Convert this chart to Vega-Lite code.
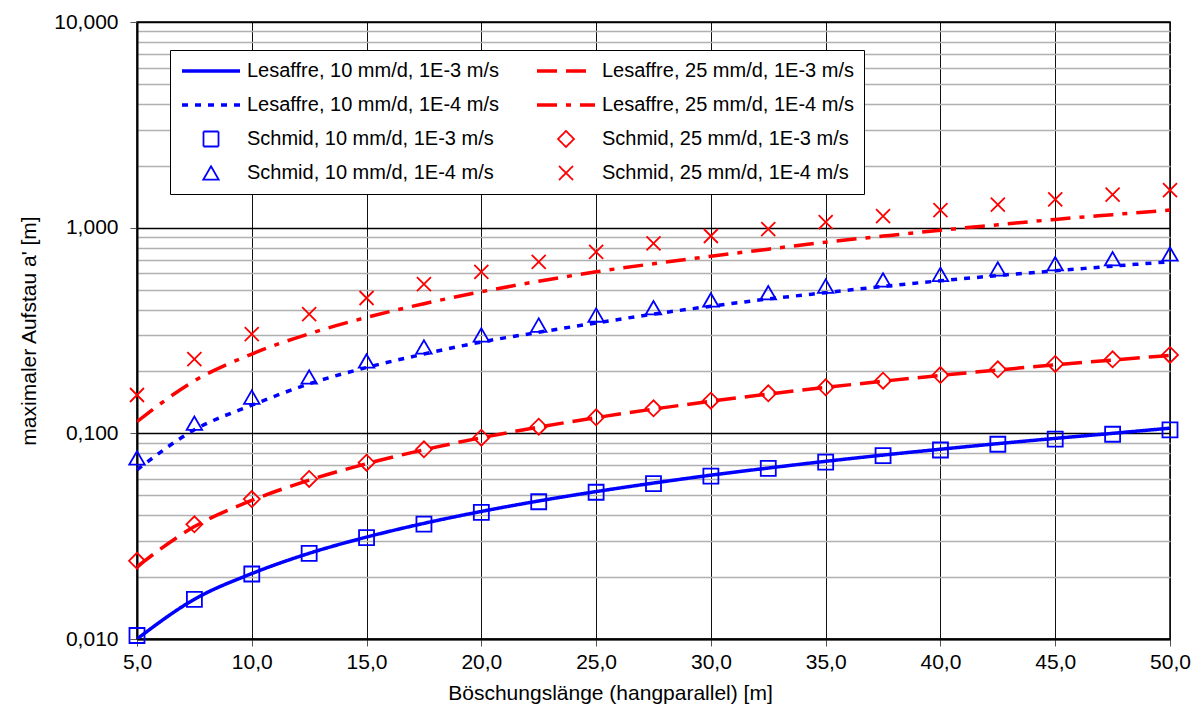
{
  "$schema": "https://vega.github.io/schema/vega-lite/v6.json",
  "width": 1033,
  "height": 617,
  "autosize": {"type": "none"},
  "padding": {"left": 137, "top": 22, "right": 29, "bottom": 83},
  "background": "white",
  "config": {
    "font": "Liberation Sans",
    "view": {"stroke": "black", "strokeWidth": 1.5},
    "axis": {"labelFont": "Liberation Sans", "titleFont": "Liberation Sans", "labelColor": "black", "titleColor": "black", "titleFontWeight": "normal"}
  },
  "data": {"values": [
    {"x": 5,    "Lesaffre, 10 mm/d, 1E-3 m/s": 0.0100, "Lesaffre, 25 mm/d, 1E-3 m/s": 0.0225, "Lesaffre, 10 mm/d, 1E-4 m/s": 0.0665, "Lesaffre, 25 mm/d, 1E-4 m/s": 0.114, "Schmid, 10 mm/d, 1E-3 m/s": 0.0104, "Schmid, 25 mm/d, 1E-3 m/s": 0.0240, "Schmid, 10 mm/d, 1E-4 m/s": 0.0759, "Schmid, 25 mm/d, 1E-4 m/s": 0.1536},
    {"x": 7.5,  "Lesaffre, 10 mm/d, 1E-3 m/s": 0.0156, "Lesaffre, 25 mm/d, 1E-3 m/s": 0.0352, "Lesaffre, 10 mm/d, 1E-4 m/s": 0.104, "Lesaffre, 25 mm/d, 1E-4 m/s": 0.180, "Schmid, 10 mm/d, 1E-3 m/s": 0.0156, "Schmid, 25 mm/d, 1E-3 m/s": 0.0361, "Schmid, 10 mm/d, 1E-4 m/s": 0.112, "Schmid, 25 mm/d, 1E-4 m/s": 0.2298},
    {"x": 10,   "Lesaffre, 10 mm/d, 1E-3 m/s": 0.0208, "Lesaffre, 25 mm/d, 1E-3 m/s": 0.0472, "Lesaffre, 10 mm/d, 1E-4 m/s": 0.137, "Lesaffre, 25 mm/d, 1E-4 m/s": 0.243, "Schmid, 10 mm/d, 1E-3 m/s": 0.0207, "Schmid, 25 mm/d, 1E-3 m/s": 0.0479, "Schmid, 10 mm/d, 1E-4 m/s": 0.150, "Schmid, 25 mm/d, 1E-4 m/s": 0.304},
    {"x": 12.5, "Lesaffre, 10 mm/d, 1E-3 m/s": 0.0261, "Lesaffre, 25 mm/d, 1E-3 m/s": 0.0592, "Lesaffre, 10 mm/d, 1E-4 m/s": 0.174, "Lesaffre, 25 mm/d, 1E-4 m/s": 0.305, "Schmid, 10 mm/d, 1E-3 m/s": 0.0261, "Schmid, 25 mm/d, 1E-3 m/s": 0.0600, "Schmid, 10 mm/d, 1E-4 m/s": 0.188, "Schmid, 25 mm/d, 1E-4 m/s": 0.380},
    {"x": 15,   "Lesaffre, 10 mm/d, 1E-3 m/s": 0.0313, "Lesaffre, 25 mm/d, 1E-3 m/s": 0.0712, "Lesaffre, 10 mm/d, 1E-4 m/s": 0.209, "Lesaffre, 25 mm/d, 1E-4 m/s": 0.366, "Schmid, 10 mm/d, 1E-3 m/s": 0.0311, "Schmid, 25 mm/d, 1E-3 m/s": 0.0720, "Schmid, 10 mm/d, 1E-4 m/s": 0.2248, "Schmid, 25 mm/d, 1E-4 m/s": 0.455},
    {"x": 17.5, "Lesaffre, 10 mm/d, 1E-3 m/s": 0.0365, "Lesaffre, 25 mm/d, 1E-3 m/s": 0.0832, "Lesaffre, 10 mm/d, 1E-4 m/s": 0.243, "Lesaffre, 25 mm/d, 1E-4 m/s": 0.427, "Schmid, 10 mm/d, 1E-3 m/s": 0.0362, "Schmid, 25 mm/d, 1E-3 m/s": 0.0836, "Schmid, 10 mm/d, 1E-4 m/s": 0.263, "Schmid, 25 mm/d, 1E-4 m/s": 0.532},
    {"x": 20,   "Lesaffre, 10 mm/d, 1E-3 m/s": 0.0417, "Lesaffre, 25 mm/d, 1E-3 m/s": 0.0952, "Lesaffre, 10 mm/d, 1E-4 m/s": 0.278, "Lesaffre, 25 mm/d, 1E-4 m/s": 0.488, "Schmid, 10 mm/d, 1E-3 m/s": 0.0413, "Schmid, 25 mm/d, 1E-3 m/s": 0.0952, "Schmid, 10 mm/d, 1E-4 m/s": 0.301, "Schmid, 25 mm/d, 1E-4 m/s": 0.609},
    {"x": 22.5, "Lesaffre, 10 mm/d, 1E-3 m/s": 0.0469, "Lesaffre, 25 mm/d, 1E-3 m/s": 0.1072, "Lesaffre, 10 mm/d, 1E-4 m/s": 0.310, "Lesaffre, 25 mm/d, 1E-4 m/s": 0.549, "Schmid, 10 mm/d, 1E-3 m/s": 0.0465, "Schmid, 25 mm/d, 1E-3 m/s": 0.1077, "Schmid, 10 mm/d, 1E-4 m/s": 0.336, "Schmid, 25 mm/d, 1E-4 m/s": 0.681},
    {"x": 25,   "Lesaffre, 10 mm/d, 1E-3 m/s": 0.0521, "Lesaffre, 25 mm/d, 1E-3 m/s": 0.1192, "Lesaffre, 10 mm/d, 1E-4 m/s": 0.344, "Lesaffre, 25 mm/d, 1E-4 m/s": 0.610, "Schmid, 10 mm/d, 1E-3 m/s": 0.0517, "Schmid, 25 mm/d, 1E-3 m/s": 0.1197, "Schmid, 10 mm/d, 1E-4 m/s": 0.376, "Schmid, 25 mm/d, 1E-4 m/s": 0.762},
    {"x": 27.5, "Lesaffre, 10 mm/d, 1E-3 m/s": 0.0573, "Lesaffre, 25 mm/d, 1E-3 m/s": 0.1312, "Lesaffre, 10 mm/d, 1E-4 m/s": 0.380, "Lesaffre, 25 mm/d, 1E-4 m/s": 0.668, "Schmid, 10 mm/d, 1E-3 m/s": 0.0570, "Schmid, 25 mm/d, 1E-3 m/s": 0.1323, "Schmid, 10 mm/d, 1E-4 m/s": 0.408, "Schmid, 25 mm/d, 1E-4 m/s": 0.839},
    {"x": 30,   "Lesaffre, 10 mm/d, 1E-3 m/s": 0.0626, "Lesaffre, 25 mm/d, 1E-3 m/s": 0.1432, "Lesaffre, 10 mm/d, 1E-4 m/s": 0.415, "Lesaffre, 25 mm/d, 1E-4 m/s": 0.726, "Schmid, 10 mm/d, 1E-3 m/s": 0.0620, "Schmid, 25 mm/d, 1E-3 m/s": 0.1441, "Schmid, 10 mm/d, 1E-4 m/s": 0.445, "Schmid, 25 mm/d, 1E-4 m/s": 0.911},
    {"x": 32.5, "Lesaffre, 10 mm/d, 1E-3 m/s": 0.0678, "Lesaffre, 25 mm/d, 1E-3 m/s": 0.1552, "Lesaffre, 10 mm/d, 1E-4 m/s": 0.450, "Lesaffre, 25 mm/d, 1E-4 m/s": 0.786, "Schmid, 10 mm/d, 1E-3 m/s": 0.0675, "Schmid, 25 mm/d, 1E-3 m/s": 0.1565, "Schmid, 10 mm/d, 1E-4 m/s": 0.483, "Schmid, 25 mm/d, 1E-4 m/s": 0.985},
    {"x": 35,   "Lesaffre, 10 mm/d, 1E-3 m/s": 0.0731, "Lesaffre, 25 mm/d, 1E-3 m/s": 0.1672, "Lesaffre, 10 mm/d, 1E-4 m/s": 0.483, "Lesaffre, 25 mm/d, 1E-4 m/s": 0.850, "Schmid, 10 mm/d, 1E-3 m/s": 0.0725, "Schmid, 25 mm/d, 1E-3 m/s": 0.1674, "Schmid, 10 mm/d, 1E-4 m/s": 0.520, "Schmid, 25 mm/d, 1E-4 m/s": 1.065},
    {"x": 37.5, "Lesaffre, 10 mm/d, 1E-3 m/s": 0.0784, "Lesaffre, 25 mm/d, 1E-3 m/s": 0.1792, "Lesaffre, 10 mm/d, 1E-4 m/s": 0.518, "Lesaffre, 25 mm/d, 1E-4 m/s": 0.910, "Schmid, 10 mm/d, 1E-3 m/s": 0.0780, "Schmid, 25 mm/d, 1E-3 m/s": 0.1803, "Schmid, 10 mm/d, 1E-4 m/s": 0.557, "Schmid, 25 mm/d, 1E-4 m/s": 1.139},
    {"x": 40,   "Lesaffre, 10 mm/d, 1E-3 m/s": 0.0837, "Lesaffre, 25 mm/d, 1E-3 m/s": 0.1912, "Lesaffre, 10 mm/d, 1E-4 m/s": 0.552, "Lesaffre, 25 mm/d, 1E-4 m/s": 0.972, "Schmid, 10 mm/d, 1E-3 m/s": 0.0830, "Schmid, 25 mm/d, 1E-3 m/s": 0.1921, "Schmid, 10 mm/d, 1E-4 m/s": 0.593, "Schmid, 25 mm/d, 1E-4 m/s": 1.218},
    {"x": 42.5, "Lesaffre, 10 mm/d, 1E-3 m/s": 0.0891, "Lesaffre, 25 mm/d, 1E-3 m/s": 0.2032, "Lesaffre, 10 mm/d, 1E-4 m/s": 0.585, "Lesaffre, 25 mm/d, 1E-4 m/s": 1.033, "Schmid, 10 mm/d, 1E-3 m/s": 0.0885, "Schmid, 25 mm/d, 1E-3 m/s": 0.2047, "Schmid, 10 mm/d, 1E-4 m/s": 0.630, "Schmid, 25 mm/d, 1E-4 m/s": 1.293},
    {"x": 45,   "Lesaffre, 10 mm/d, 1E-3 m/s": 0.0945, "Lesaffre, 25 mm/d, 1E-3 m/s": 0.2152, "Lesaffre, 10 mm/d, 1E-4 m/s": 0.617, "Lesaffre, 25 mm/d, 1E-4 m/s": 1.097, "Schmid, 10 mm/d, 1E-3 m/s": 0.0937, "Schmid, 25 mm/d, 1E-3 m/s": 0.2174, "Schmid, 10 mm/d, 1E-4 m/s": 0.668, "Schmid, 25 mm/d, 1E-4 m/s": 1.374},
    {"x": 47.5, "Lesaffre, 10 mm/d, 1E-3 m/s": 0.1000, "Lesaffre, 25 mm/d, 1E-3 m/s": 0.2272, "Lesaffre, 10 mm/d, 1E-4 m/s": 0.650, "Lesaffre, 25 mm/d, 1E-4 m/s": 1.157, "Schmid, 10 mm/d, 1E-3 m/s": 0.0990, "Schmid, 25 mm/d, 1E-3 m/s": 0.2290, "Schmid, 10 mm/d, 1E-4 m/s": 0.706, "Schmid, 25 mm/d, 1E-4 m/s": 1.446},
    {"x": 50,   "Lesaffre, 10 mm/d, 1E-3 m/s": 0.1060, "Lesaffre, 25 mm/d, 1E-3 m/s": 0.2392, "Lesaffre, 10 mm/d, 1E-4 m/s": 0.683, "Lesaffre, 25 mm/d, 1E-4 m/s": 1.218, "Schmid, 10 mm/d, 1E-3 m/s": 0.1040, "Schmid, 25 mm/d, 1E-3 m/s": 0.2404, "Schmid, 10 mm/d, 1E-4 m/s": 0.745, "Schmid, 25 mm/d, 1E-4 m/s": 1.524}
  ]},
  "transform": [
    {"fold": ["Lesaffre, 10 mm/d, 1E-3 m/s", "Lesaffre, 25 mm/d, 1E-3 m/s", "Lesaffre, 10 mm/d, 1E-4 m/s", "Lesaffre, 25 mm/d, 1E-4 m/s", "Schmid, 10 mm/d, 1E-3 m/s", "Schmid, 25 mm/d, 1E-3 m/s", "Schmid, 10 mm/d, 1E-4 m/s", "Schmid, 25 mm/d, 1E-4 m/s"], "as": ["series", "value"]}
  ],
  "encoding": {
    "x": {
      "field": "x", "type": "quantitative",
      "scale": {"domain": [5, 50], "nice": false, "zero": false},
      "axis": {
        "title": "Böschungslänge (hangparallel) [m]",
        "titleX": 473, "titleAlign": "center",
        "values": [5, 10, 15, 20, 25, 30, 35, 40, 45, 50],
        "labelExpr": "replace(format(datum.value, '.1f'), '.', ',')",
        "labelFontSize": 21, "titleFontSize": 21,
        "labelPadding": 5, "titlePadding": 10,
        "tickSize": 7, "tickColor": "#555", "tickWidth": 1,
        "domainColor": "black", "domainWidth": 2,
        "grid": true, "gridColor": "#111", "gridWidth": 1, "gridOpacity": 1,
        "labelFlush": false
      }
    },
    "y": {
      "field": "value", "type": "quantitative",
      "scale": {"type": "log", "domain": [0.01, 10], "nice": false},
      "axis": {
        "title": "maximaler Aufstau a' [m]",
        "values": [0.01, 0.02, 0.03, 0.04, 0.05, 0.06, 0.07, 0.08, 0.09, 0.1, 0.2, 0.3, 0.4, 0.5, 0.6, 0.7, 0.8, 0.9, 1, 2, 3, 4, 5, 6, 7, 8, 9, 10],
        "labelExpr": "indexof([0.01, 0.1, 1, 10], datum.value) >= 0 ? replace(format(datum.value, '.3f'), '.', ',') : ''",
        "labelFontSize": 21, "titleFontSize": 21,
        "labelPadding": 12, "titlePadding": 14,
        "tickSize": 7, "tickWidth": 1,
        "tickColor": {"condition": {"test": "indexof([0.01, 0.1, 1, 10], datum.value) >= 0", "value": "#555"}, "value": "transparent"},
        "domainColor": "black", "domainWidth": 2,
        "grid": true, "gridOpacity": 1, "gridWidth": 1.3,
        "gridColor": {"condition": {"test": "indexof([0.01, 0.1, 1, 10], datum.value) >= 0", "value": "black"}, "value": "#b0b0b0"},
        "labelOverlap": false, "labelFlush": false
      }
    },
    "color": {
      "field": "series", "type": "nominal",
      "scale": {
        "domain": ["Lesaffre, 10 mm/d, 1E-3 m/s", "Lesaffre, 10 mm/d, 1E-4 m/s", "Schmid, 10 mm/d, 1E-3 m/s", "Schmid, 10 mm/d, 1E-4 m/s", "Lesaffre, 25 mm/d, 1E-3 m/s", "Lesaffre, 25 mm/d, 1E-4 m/s", "Schmid, 25 mm/d, 1E-3 m/s", "Schmid, 25 mm/d, 1E-4 m/s"],
        "range": ["#0000ff", "#0000ff", "#0000ff", "#0000ff", "#ff0000", "#ff0000", "#ff0000", "#ff0000"]
      },
      "legend": {
        "title": null,
        "orient": "none", "legendX": 33, "legendY": 28,
        "columns": 2, "columnPadding": 36, "rowPadding": 12,
        "padding": 10, "clipHeight": 22,
        "fillColor": "white", "strokeColor": "black",
        "labelFont": "Liberation Sans", "labelFontSize": 20, "labelColor": "black", "labelLimit": 400,
        "labelOffset": 5
      }
    }
  },
  "layer": [
    {
      "transform": [{"filter": "indexof(datum.series, 'Lesaffre') == 0"}],
      "mark": {"type": "line", "strokeWidth": 3.5, "interpolate": "monotone", "clip": true},
      "encoding": {
        "strokeDash": {
          "field": "series", "type": "nominal",
          "scale": {
            "domain": ["Lesaffre, 10 mm/d, 1E-3 m/s", "Lesaffre, 10 mm/d, 1E-4 m/s", "Schmid, 10 mm/d, 1E-3 m/s", "Schmid, 10 mm/d, 1E-4 m/s", "Lesaffre, 25 mm/d, 1E-3 m/s", "Lesaffre, 25 mm/d, 1E-4 m/s", "Schmid, 25 mm/d, 1E-3 m/s", "Schmid, 25 mm/d, 1E-4 m/s"],
            "range": [[1, 0], [6, 7], [1, 0], [1, 0], [20, 9], [20, 9, 5, 9], [1, 0], [1, 0]]
          }
        }
      }
    },
    {
      "transform": [{"filter": "indexof(datum.series, 'Schmid') == 0"}],
      "mark": {"type": "point", "filled": false, "opacity": 1},
      "encoding": {
        "shape": {
          "field": "series", "type": "nominal",
          "scale": {
            "domain": ["Lesaffre, 10 mm/d, 1E-3 m/s", "Lesaffre, 10 mm/d, 1E-4 m/s", "Schmid, 10 mm/d, 1E-3 m/s", "Schmid, 10 mm/d, 1E-4 m/s", "Lesaffre, 25 mm/d, 1E-3 m/s", "Lesaffre, 25 mm/d, 1E-4 m/s", "Schmid, 25 mm/d, 1E-3 m/s", "Schmid, 25 mm/d, 1E-4 m/s"],
            "range": ["stroke", "stroke", "square", "triangle-up", "stroke", "stroke", "diamond", "M-1,-1L1,1M-1,1L1,-1"]
          }
        },
        "size": {
          "field": "series", "type": "nominal",
          "scale": {
            "type": "ordinal",
            "domain": ["Lesaffre, 10 mm/d, 1E-3 m/s", "Lesaffre, 10 mm/d, 1E-4 m/s", "Schmid, 10 mm/d, 1E-3 m/s", "Schmid, 10 mm/d, 1E-4 m/s", "Lesaffre, 25 mm/d, 1E-3 m/s", "Lesaffre, 25 mm/d, 1E-4 m/s", "Schmid, 25 mm/d, 1E-3 m/s", "Schmid, 25 mm/d, 1E-4 m/s"],
            "range": [3364, 3364, 225, 240, 3364, 3364, 256, 196]
          }
        },
        "strokeWidth": {
          "field": "series", "type": "nominal",
          "scale": {
            "type": "ordinal",
            "domain": ["Lesaffre, 10 mm/d, 1E-3 m/s", "Lesaffre, 10 mm/d, 1E-4 m/s", "Schmid, 10 mm/d, 1E-3 m/s", "Schmid, 10 mm/d, 1E-4 m/s", "Lesaffre, 25 mm/d, 1E-3 m/s", "Lesaffre, 25 mm/d, 1E-4 m/s", "Schmid, 25 mm/d, 1E-3 m/s", "Schmid, 25 mm/d, 1E-4 m/s"],
            "range": [3.5, 3.5, 1.8, 1.8, 3.5, 3.5, 1.8, 1.8]
          }
        }
      }
    }
  ]
}
